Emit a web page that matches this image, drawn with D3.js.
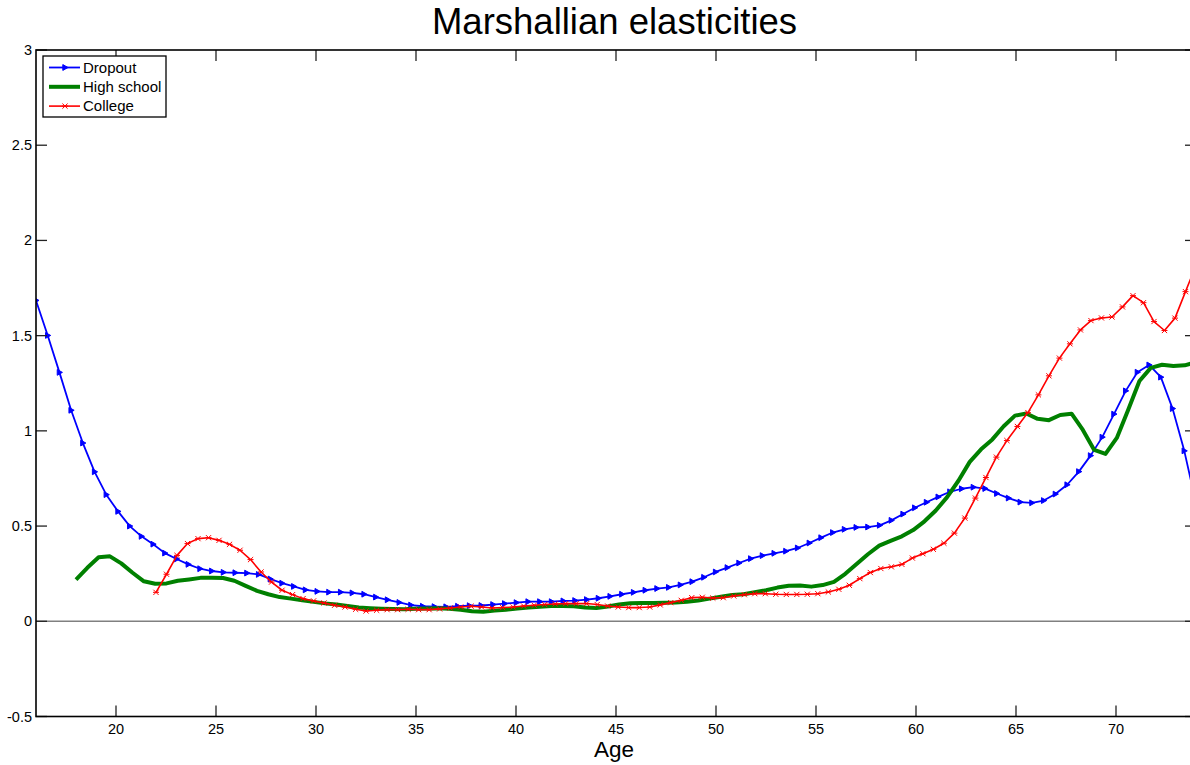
<!DOCTYPE html>
<html>
<head>
<meta charset="utf-8">
<script src="https://cdn.jsdelivr.net/npm/d3@7"></script>
<style>
  body { margin: 0; background: #fff; }
  text { font-family: "Liberation Sans", Arial, sans-serif; }
</style>
</head>
<body>
<svg id="chart" width="1190" height="765"></svg>
<script>
// each series: 100 evenly spaced ages from its first age up to 74
const dropoutRange = [16, 74];
const highSchoolRange = [18, 74];
const collegeRange = [22, 74];

const dropout = [
  1.685, 1.501, 1.307, 1.108, 0.936, 0.785, 0.665, 0.577, 0.500, 0.446,
  0.405, 0.358, 0.327, 0.299, 0.276, 0.264, 0.257, 0.255, 0.253, 0.246,
  0.222, 0.200, 0.183, 0.165, 0.157, 0.153, 0.153, 0.149, 0.142, 0.127,
  0.113, 0.099, 0.085, 0.079, 0.077, 0.076, 0.079, 0.082, 0.083, 0.088,
  0.093, 0.098, 0.103, 0.103, 0.103, 0.107, 0.109, 0.114, 0.121, 0.131,
  0.142, 0.152, 0.163, 0.172, 0.178, 0.191, 0.208, 0.231, 0.259, 0.282,
  0.306, 0.329, 0.345, 0.357, 0.368, 0.385, 0.411, 0.439, 0.466, 0.483,
  0.493, 0.495, 0.504, 0.530, 0.563, 0.596, 0.625, 0.653, 0.680, 0.696,
  0.704, 0.697, 0.671, 0.647, 0.626, 0.622, 0.634, 0.668, 0.717, 0.786,
  0.870, 0.967, 1.088, 1.210, 1.308, 1.346, 1.282, 1.117, 0.895, 0.620
];

const highSchool = [
  0.219, 0.281, 0.336, 0.341, 0.304, 0.255, 0.210, 0.197, 0.199, 0.213,
  0.220, 0.228, 0.228, 0.227, 0.213, 0.186, 0.160, 0.142, 0.127, 0.119,
  0.110, 0.102, 0.094, 0.088, 0.080, 0.073, 0.069, 0.066, 0.064, 0.063,
  0.066, 0.067, 0.068, 0.066, 0.061, 0.053, 0.050, 0.056, 0.061, 0.067,
  0.072, 0.076, 0.080, 0.080, 0.079, 0.072, 0.070, 0.078, 0.088, 0.095,
  0.096, 0.096, 0.097, 0.099, 0.103, 0.109, 0.119, 0.129, 0.138, 0.142,
  0.152, 0.163, 0.177, 0.187, 0.188, 0.182, 0.190, 0.207, 0.249, 0.301,
  0.352, 0.397, 0.422, 0.446, 0.479, 0.525, 0.582, 0.652, 0.738, 0.837,
  0.903, 0.955, 1.024, 1.080, 1.091, 1.063, 1.056, 1.083, 1.090, 1.005,
  0.900, 0.879, 0.963, 1.110, 1.262, 1.331, 1.347, 1.341, 1.344, 1.360
];

const college = [
  0.152, 0.247, 0.346, 0.408, 0.434, 0.439, 0.425, 0.404, 0.373, 0.324,
  0.259, 0.206, 0.163, 0.140, 0.119, 0.107, 0.096, 0.084, 0.075, 0.063,
  0.054, 0.058, 0.061, 0.061, 0.063, 0.061, 0.061, 0.065, 0.070, 0.075,
  0.079, 0.075, 0.070, 0.072, 0.075, 0.080, 0.084, 0.088, 0.091, 0.093,
  0.093, 0.093, 0.088, 0.080, 0.075, 0.072, 0.072, 0.075, 0.086, 0.098,
  0.110, 0.124, 0.126, 0.122, 0.124, 0.133, 0.140, 0.145, 0.145, 0.142,
  0.141, 0.141, 0.142, 0.145, 0.154, 0.168, 0.189, 0.224, 0.256, 0.277,
  0.286, 0.299, 0.332, 0.355, 0.378, 0.410, 0.463, 0.542, 0.647, 0.755,
  0.862, 0.949, 1.023, 1.096, 1.189, 1.289, 1.382, 1.457, 1.530, 1.579,
  1.593, 1.598, 1.651, 1.710, 1.673, 1.574, 1.527, 1.592, 1.731, 1.870
];

const xTicks = [20, 25, 30, 35, 40, 45, 50, 55, 60, 65, 70];
const yTicks = [-0.5, 0, 0.5, 1, 1.5, 2, 2.5, 3];
const seriesNames = ['Dropout', 'High school', 'College'];

const svg = d3.select('#chart');
const box = { left: 36, right: 1196, top: 50, bottom: 716.5 };

const x = d3.scaleLinear().domain([16, 74]).range([box.left, box.right]);
const y = d3.scaleLinear().domain([-0.5, 3]).range([box.bottom, box.top]);

// ages for a series: index -> age, evenly spaced over its range
function withAges(values, range) {
  const idx = d3.scaleLinear().domain([0, values.length - 1]).range(range);
  return values.map((v, i) => ({ age: idx(i), v }));
}

const series = [
  { name: seriesNames[0], data: withAges(dropout, dropoutRange), color: '#0000ff', width: 1.8, marker: 'tri' },
  { name: seriesNames[1], data: withAges(highSchool, highSchoolRange), color: '#008000', width: 4, marker: null },
  { name: seriesNames[2], data: withAges(college, collegeRange), color: '#ff0000', width: 1.6, marker: 'star' }
];

const triPath = 'M-2.2,-2.9L3,0L-2.2,2.9Z';
const starPath = 'M-2.6,-2.6L2.6,2.6M-2.6,2.6L2.6,-2.6M-3,0L3,0';

svg.append('defs').append('clipPath').attr('id', 'clip')
  .append('rect').attr('x', box.left).attr('y', box.top)
  .attr('width', box.right - box.left).attr('height', box.bottom - box.top);

// zero line
svg.append('line')
  .attr('x1', box.left).attr('x2', box.right)
  .attr('y1', y(0)).attr('y2', y(0))
  .attr('stroke', '#808080').attr('stroke-width', 1.6);

const plot = svg.append('g').attr('clip-path', 'url(#clip)');

const line = d3.line().x(d => x(d.age)).y(d => y(d.v));

// draw in order so red sits on top, like the reference
series.forEach(s => {
  plot.append('path')
    .datum(s.data)
    .attr('fill', 'none')
    .attr('stroke', s.color)
    .attr('stroke-width', s.width)
    .attr('stroke-linejoin', 'round')
    .attr('d', line);

  if (s.marker) {
    plot.selectAll(null)
      .data(s.data)
      .join('path')
      .attr('transform', d => `translate(${x(d.age)},${y(d.v)})`)
      .attr('d', s.marker === 'tri' ? triPath : starPath)
      .attr('fill', s.marker === 'tri' ? s.color : 'none')
      .attr('stroke', s.color)
      .attr('stroke-width', 1);
  }
});

// axes box with inward ticks (matlab style)
const tickLen = 11;
const axis = svg.append('g');

axis.selectAll('.xt')
  .data(xTicks)
  .join('g')
  .each(function (d) {
    const g = d3.select(this);
    g.append('line').attr('x1', x(d)).attr('x2', x(d))
      .attr('y1', box.bottom).attr('y2', box.bottom - tickLen)
      .attr('stroke', '#222').attr('stroke-width', 1.3);
    g.append('line').attr('x1', x(d)).attr('x2', x(d))
      .attr('y1', box.top).attr('y2', box.top + tickLen)
      .attr('stroke', '#222').attr('stroke-width', 1.3);
    g.append('text').attr('x', x(d)).attr('y', box.bottom + 17)
      .attr('text-anchor', 'middle').attr('font-size', 14.5)
      .text(d);
  });

axis.selectAll('.yt')
  .data(yTicks)
  .join('g')
  .each(function (d) {
    const g = d3.select(this);
    g.append('line').attr('x1', box.left).attr('x2', box.left + tickLen)
      .attr('y1', y(d)).attr('y2', y(d))
      .attr('stroke', '#222').attr('stroke-width', 1.3);
    g.append('line').attr('x1', box.right).attr('x2', box.right - tickLen)
      .attr('y1', y(d)).attr('y2', y(d))
      .attr('stroke', '#222').attr('stroke-width', 1.3);
    g.append('text').attr('x', box.left - 4).attr('y', y(d) + 5)
      .attr('text-anchor', 'end').attr('font-size', 14.5)
      .text(d);
  });

svg.append('rect')
  .attr('x', box.left).attr('y', box.top)
  .attr('width', box.right - box.left).attr('height', box.bottom - box.top)
  .attr('fill', 'none').attr('stroke', '#000').attr('stroke-width', 1.6);

// title and x label
svg.append('text')
  .attr('x', 614.5).attr('y', 34)
  .attr('text-anchor', 'middle').attr('font-size', 36.5)
  .text('Marshallian elasticities');

svg.append('text')
  .attr('x', 614).attr('y', 757)
  .attr('text-anchor', 'middle').attr('font-size', 22.5)
  .text('Age');

// legend
const legend = svg.append('g');
legend.append('rect')
  .attr('x', 43).attr('y', 56).attr('width', 123).attr('height', 61)
  .attr('fill', '#fff').attr('stroke', '#000').attr('stroke-width', 1.3);

series.forEach((s, i) => {
  const ly = 67.5 + i * 19.3;
  legend.append('line')
    .attr('x1', 49).attr('x2', 80).attr('y1', ly).attr('y2', ly)
    .attr('stroke', s.color).attr('stroke-width', s.width);
  if (s.marker) {
    legend.append('path')
      .attr('transform', `translate(65,${ly})`)
      .attr('d', s.marker === 'tri' ? triPath : starPath)
      .attr('fill', s.marker === 'tri' ? s.color : 'none')
      .attr('stroke', s.color).attr('stroke-width', 1);
  }
  legend.append('text')
    .attr('x', 83).attr('y', ly + 5)
    .attr('font-size', 15)
    .text(s.name);
});
</script>
</body>
</html>
